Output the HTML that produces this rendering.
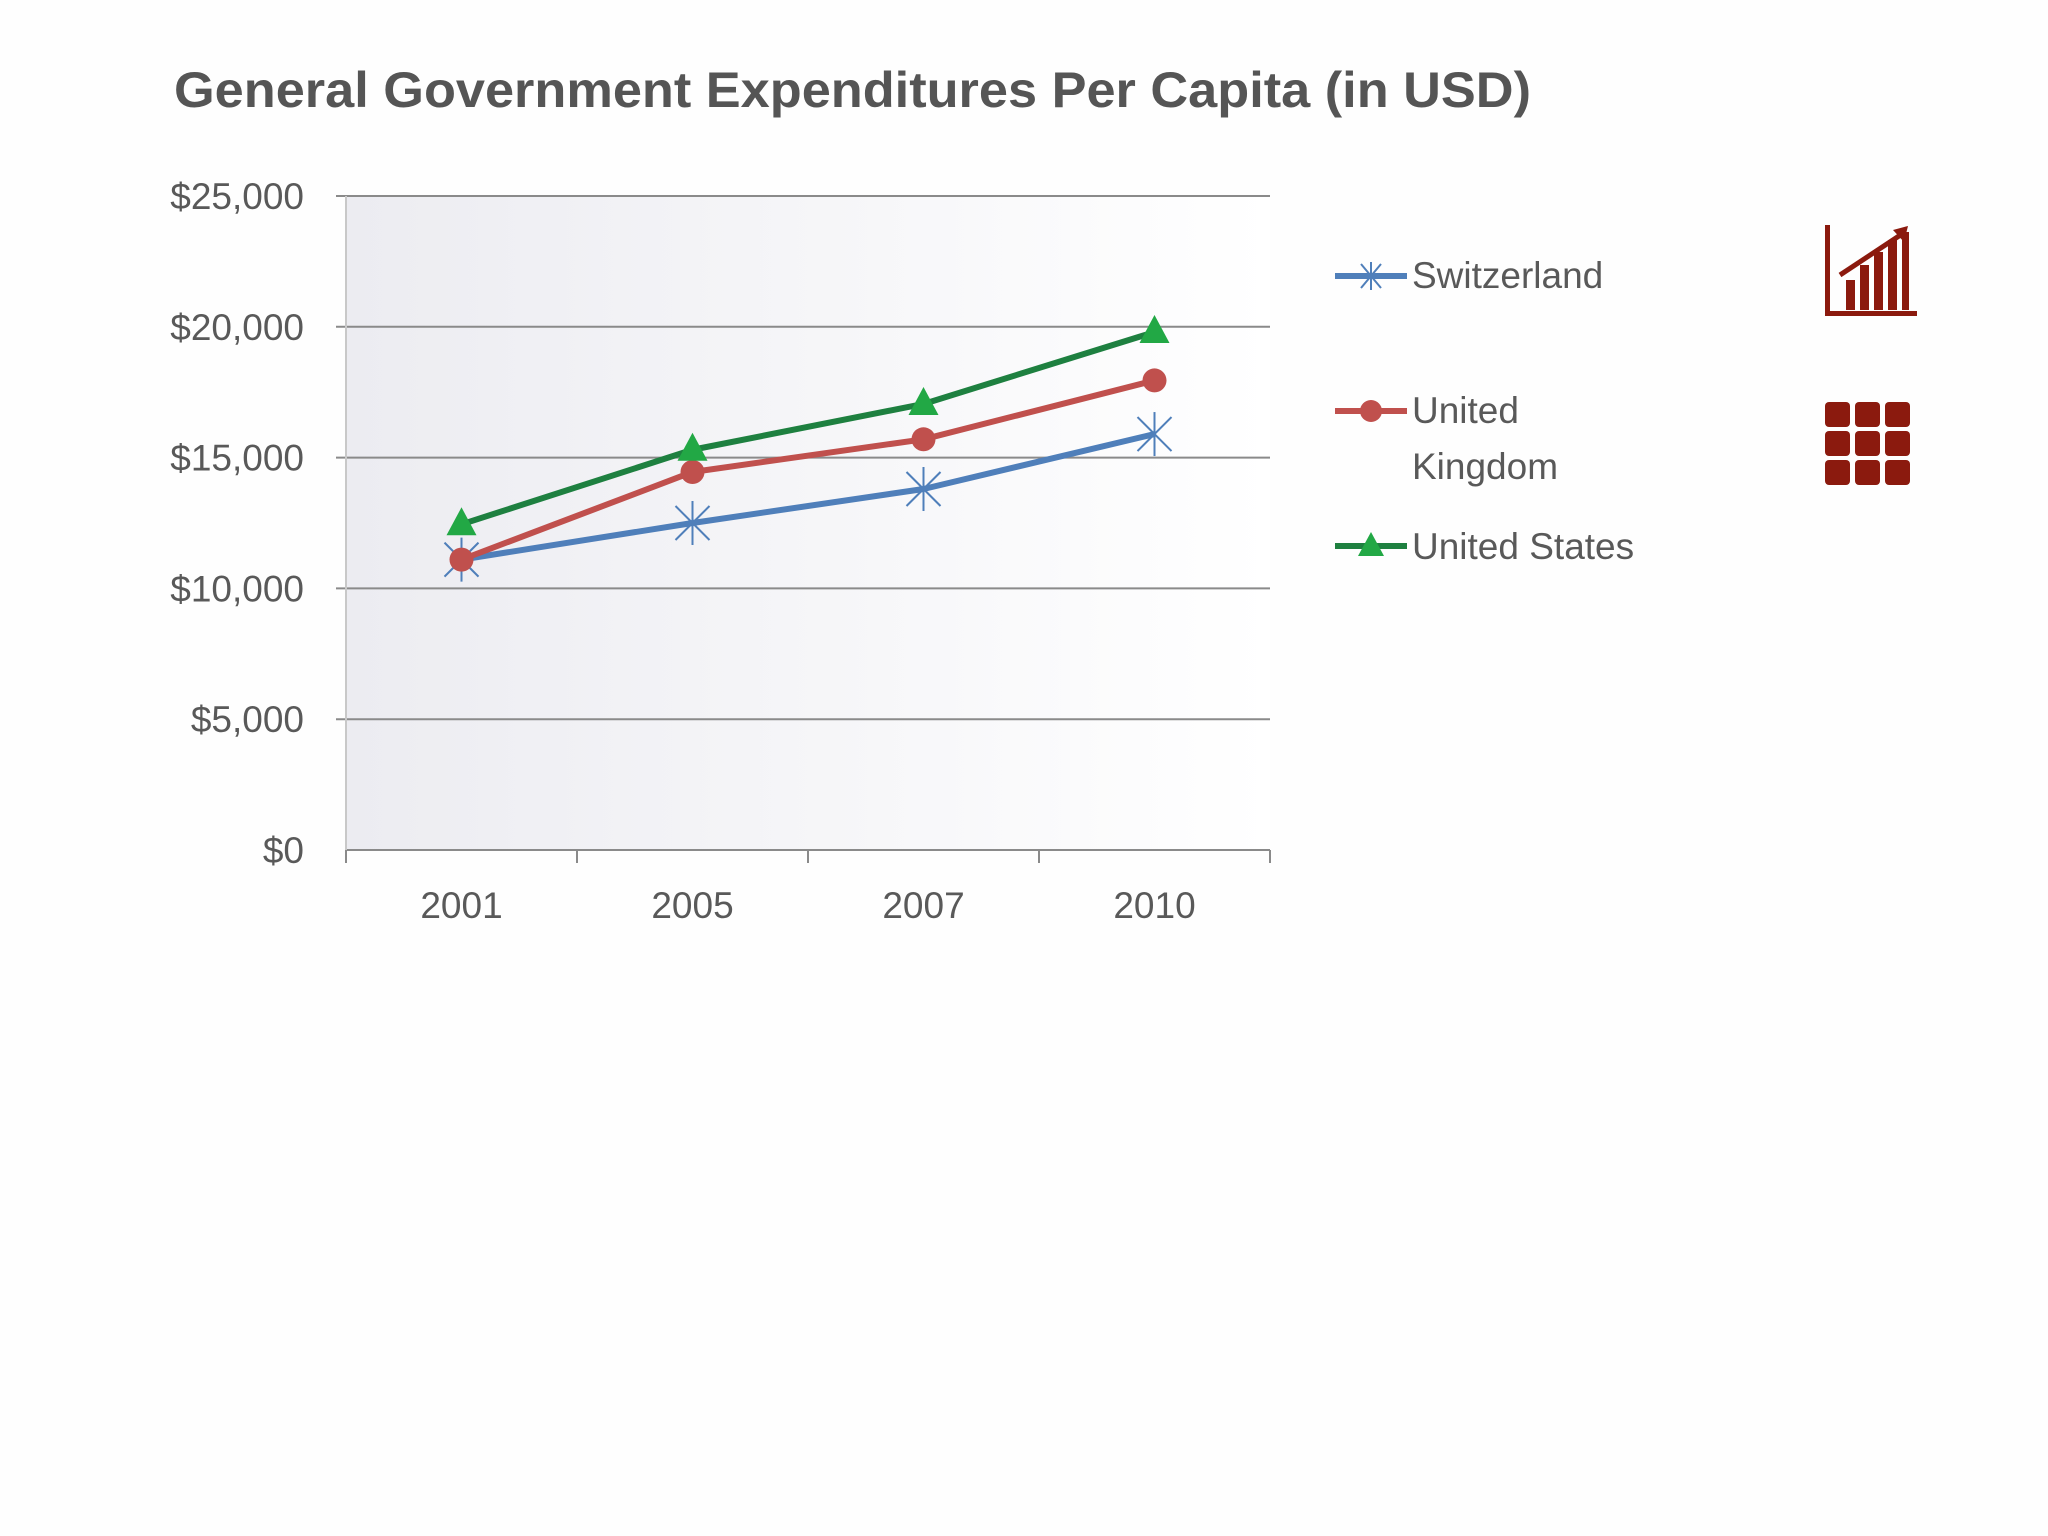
<!DOCTYPE html>
<html><head><meta charset="utf-8"><style>
html,body{margin:0;padding:0;background:#fdfdfe;}
svg{display:block;font-family:"Liberation Sans",sans-serif;}
</style></head><body>
<svg id="chart" width="2048" height="1536" viewBox="0 0 2048 1536">
<defs>
<linearGradient id="pg" x1="0" x2="1" y1="0" y2="0"><stop offset="0" stop-color="#ececf1"/><stop offset="1" stop-color="#ffffff"/></linearGradient>
</defs>
<rect x="0" y="0" width="2048" height="1536" fill="#fefefe"/>
<text x="174" y="107" font-size="50" font-weight="bold" fill="#555" textLength="1357" lengthAdjust="spacingAndGlyphs">General Government Expenditures Per Capita (in USD)</text>
<rect x="346" y="196" width="924" height="654" fill="url(#pg)"/>
<g id="grid"></g><g id="axes"></g><g id="series"></g>
<g>
 <g>
  <line x1="1335" y1="276" x2="1407" y2="276" stroke="#4f7fba" stroke-width="6"/>
  <g stroke="#4f7fba" stroke-width="2"><line x1="1361" y1="264" x2="1381" y2="288"/><line x1="1381" y1="264" x2="1361" y2="288"/><line x1="1371" y1="262" x2="1371" y2="290"/></g>
  <text x="1412" y="288" font-size="37" fill="#595959">Switzerland</text>
 </g>
 <g>
  <line x1="1335" y1="411" x2="1407" y2="411" stroke="#c0504d" stroke-width="6"/>
  <circle cx="1371" cy="411" r="11" fill="#c0504d"/>
  <text x="1412" y="423" font-size="37" fill="#595959">United</text>
  <text x="1412" y="479" font-size="37" fill="#595959">Kingdom</text>
 </g>
 <g>
  <line x1="1335" y1="546" x2="1407" y2="546" stroke="#1e8040" stroke-width="6"/>
  <polygon points="1371,532 1384,556 1358,556" fill="#22a845"/>
  <text x="1412" y="559" font-size="37" fill="#595959">United States</text>
 </g>
</g>
<g fill="#8b1a0e">
 <rect x="1825" y="225" width="5" height="91"/><rect x="1825" y="311" width="92" height="5"/>
 <rect x="1846" y="280" width="9" height="30"/><rect x="1860" y="265" width="9" height="45"/><rect x="1874" y="252" width="9" height="58"/><rect x="1888" y="240" width="9" height="70"/><rect x="1902" y="232" width="7" height="78"/>
 <line x1="1840" y1="275" x2="1905" y2="232" stroke="#8b1a0e" stroke-width="5"/>
 <polygon points="1908,226 1893,230 1904,242"/>
</g>
<g fill="#8b1a0e" id="gridicon"></g>
<script>
const categories=["2001","2005","2007","2010"];
const yTicks=[0,5000,10000,15000,20000,25000];
const yTickLabels=["$0","$5,000","$10,000","$15,000","$20,000","$25,000"];
const switzerland=[11100,12500,13800,15900];
const unitedKingdom=[11100,14450,15700,17950];
const unitedStates=[12450,15300,17050,19800];
const NS="http://www.w3.org/2000/svg";
const L=346,R=1270,T=196,B=850,YMAX=25000;
const y=v=>B-(v/YMAX)*(B-T);
const bw=(R-L)/categories.length;
const x=i=>L+bw*(i+0.5);
function mk(tag,attrs,parent){const e=document.createElementNS(NS,tag);for(const k in attrs)e.setAttribute(k,attrs[k]);parent.appendChild(e);return e;}
const grid=document.getElementById('grid'),axes=document.getElementById('axes'),ser=document.getElementById('series');
yTicks.forEach((v,i)=>{
 if(v>0){const g=mk('line',{x1:L-10,x2:R,y1:y(v),y2:y(v),stroke:'#8a8a8a','stroke-width':2},grid);
 
 }
 const t=mk('text',{x:304,y:y(v)+13,'text-anchor':'end','font-size':37,fill:'#595959'},axes);t.textContent=yTickLabels[i];
 
 
});
const ax=mk('line',{x1:L,x2:R,y1:B,y2:B,stroke:'#8a8a8a','stroke-width':2},axes);


const ay=mk('line',{x1:L,x2:L,y1:T,y2:B,stroke:'#c8c8c8','stroke-width':2},axes);


for(let i=0;i<=categories.length;i++){const tk=mk('line',{x1:L+bw*i,x2:L+bw*i,y1:B,y2:B+13,stroke:'#8a8a8a','stroke-width':2},axes);
 
 }
categories.forEach((c,i)=>{const t=mk('text',{x:x(i),y:918,'text-anchor':'middle','font-size':37,fill:'#595959'},axes);t.textContent=c;
 
 });
function line(vals,color,name){
 const p=mk('polyline',{points:vals.map((v,i)=>x(i)+','+y(v)).join(' '),fill:'none',stroke:color,'stroke-width':6,'stroke-linejoin':'round'},ser);
 
 
}
line(switzerland,'#4f7fba','switzerland');
line(unitedKingdom,'#c0504d','united-kingdom');
line(unitedStates,'#1e8040','united-states');
switzerland.forEach((v,i)=>{const g=mk('g',{stroke:'#4f7fba','stroke-width':2},ser);
 
 
 const cx=x(i),cy=y(v);
 mk('line',{x1:cx-17,y1:cy-17,x2:cx+17,y2:cy+17},g);mk('line',{x1:cx+17,y1:cy-17,x2:cx-17,y2:cy+17},g);mk('line',{x1:cx,y1:cy-22,x2:cx,y2:cy+22},g);});
unitedKingdom.forEach((v,i)=>{const c=mk('circle',{cx:x(i),cy:y(v),r:12,fill:'#c0504d'},ser);
 
 });
unitedStates.forEach((v,i)=>{const cx=x(i),cy=y(v);const p=mk('polygon',{points:`${cx},${cy-17} ${cx+15},${cy+11} ${cx-15},${cy+11}`,fill:'#22a845'},ser);
 
 });
const gi=document.getElementById('gridicon');
for(let r=0;r<3;r++)for(let c=0;c<3;c++){const s=mk('rect',{x:1825+c*30,y:402+r*29,width:25,height:25,rx:4},gi);
 
 }
</script>
</svg>
</body></html>
